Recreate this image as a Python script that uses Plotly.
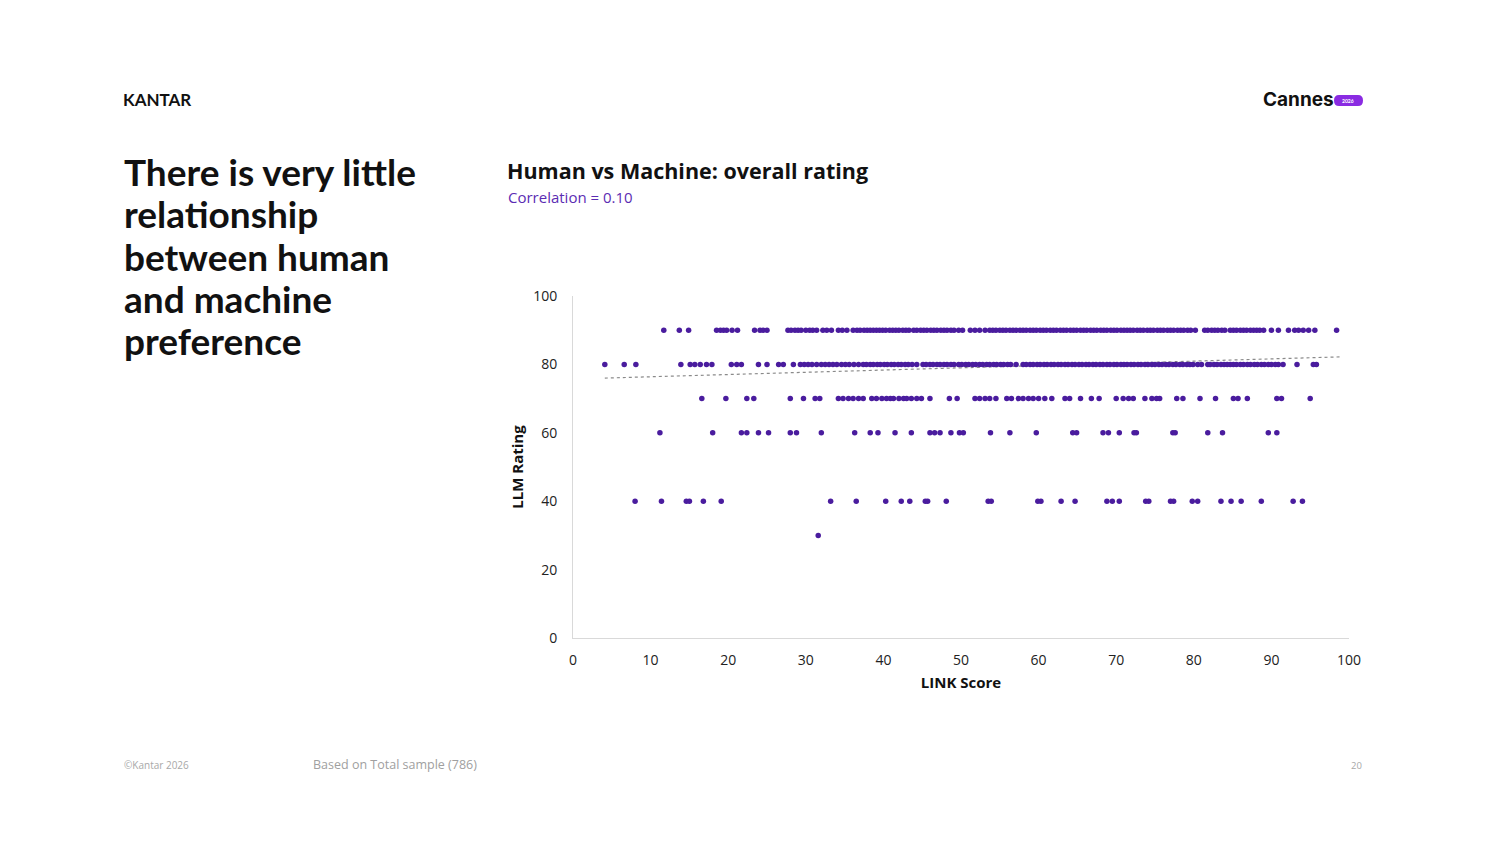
import plotly.graph_objects as go

# LINK scores, one list per LLM rating level
link_90 = [11.7, 13.7, 14.9, 18.5, 19.0, 19.4, 19.8, 20.5, 21.2, 23.4, 24.1, 24.5, 25.0,
           27.7, 28.1, 28.6, 29.0, 29.4, 30.0, 30.5, 30.9, 31.4, 32.2, 32.7, 33.3,
           34.2, 34.7, 35.3, 36.1, 36.6, 37.0, 37.5, 37.9, 38.3, 38.7, 39.1, 39.5, 39.9,
           40.3, 40.8, 41.2, 41.6, 42.0, 42.5, 42.9, 43.3, 43.9, 44.3, 44.8, 45.2, 45.6,
           46.1, 46.5, 46.9, 47.4, 47.8, 48.2, 48.7, 49.1, 49.7, 50.2, 51.2, 51.8, 52.4,
           53.1, 53.7, 54.1, 54.5, 55.0, 55.4, 55.8, 56.3, 56.7, 57.1, 57.6, 58.0, 58.4,
           58.9, 59.3, 59.7, 60.2, 60.6, 61.0, 61.5, 61.9, 62.3, 62.8, 63.2, 63.6, 64.1,
           64.5, 64.9, 65.4, 65.8, 66.2, 66.7, 67.1, 67.5, 68.0, 68.4, 68.8, 69.3, 69.7,
           70.1, 70.6, 71.0, 71.4, 71.8, 72.2, 72.7, 73.1, 73.5, 74.0, 74.4, 74.8, 75.3,
           75.7, 76.1, 76.6, 77.0, 77.4, 77.9, 78.3, 78.7, 79.2, 79.6, 80.2, 81.4, 81.8,
           82.3, 82.7, 83.1, 83.6, 84.0, 84.7, 85.1, 85.5, 86.0, 86.4, 86.8, 87.3, 87.7,
           88.1, 88.5, 89.0, 90.0, 90.9, 92.2, 93.0, 93.5, 94.1, 94.8, 95.6, 98.4]
link_80 = [4.1, 6.6, 8.1, 13.9, 15.1, 15.7, 16.4, 17.2, 17.9, 20.4, 21.1, 21.7, 23.9, 25.0,
           26.5, 27.1, 28.4, 29.3, 29.8, 30.3, 30.8, 31.4, 32.0, 32.5, 33.0, 33.5, 34.0,
           34.6, 35.1, 35.6, 36.2, 36.8, 37.4, 37.8, 38.3, 38.7, 39.2, 39.6, 40.1, 40.5,
           41.0, 41.4, 41.9, 42.3, 42.8, 43.2, 43.7, 44.3, 45.1, 45.5, 46.0, 46.4, 46.9,
           47.3, 47.8, 48.2, 48.7, 49.1, 49.7, 50.1, 50.6, 51.0, 51.5, 51.9, 52.4, 52.8,
           53.3, 53.7, 54.2, 54.6, 55.1, 55.5, 56.0, 56.4, 57.1, 58.0, 58.4, 58.9, 59.3,
           59.8, 60.2, 60.7, 61.1, 61.6, 62.0, 62.5, 62.9, 63.4, 63.8, 64.3, 64.7, 65.2,
           65.6, 66.1, 66.5, 67.0, 67.4, 67.9, 68.3, 68.8, 69.2, 69.7, 70.1, 70.6, 71.0,
           71.4, 71.9, 72.3, 72.8, 73.2, 73.7, 74.1, 74.6, 75.0, 75.5, 75.9, 76.4, 76.8,
           77.3, 77.7, 78.2, 78.6, 79.1, 79.5, 79.9, 80.5, 81.0, 81.8, 82.1, 82.6, 83.0,
           83.5, 83.9, 84.3, 84.7, 85.1, 85.5, 86.0, 86.4, 86.9, 87.3, 87.8, 88.2, 88.7,
           89.1, 89.6, 90.0, 90.5, 90.9, 91.5, 93.3, 95.4, 95.8]
link_70 = [16.6, 19.7, 22.4, 23.3, 28.0, 29.7, 31.2, 31.8, 34.2, 34.8, 35.5, 36.1, 36.8,
           37.4, 38.5, 39.1, 39.8, 40.4, 40.9, 41.3, 42.0, 42.6, 43.0, 43.6, 44.3, 44.9,
           46.0, 48.5, 49.5, 51.8, 52.4, 53.1, 53.7, 54.5, 55.9, 56.5, 57.4, 58.0, 58.7,
           59.3, 60.0, 60.8, 61.7, 63.4, 64.0, 65.4, 66.8, 67.8, 70.0, 70.9, 71.6, 72.2,
           73.7, 74.6, 75.2, 75.6, 77.8, 78.6, 80.8, 82.8, 85.1, 85.7, 86.9, 90.7, 91.3,
           95.0]
link_60 = [11.2, 18.0, 21.7, 22.4, 23.9, 25.2, 28.0, 28.8, 32.0, 36.3, 38.3, 39.3, 41.5,
           43.6, 46.0, 46.6, 47.3, 48.7, 49.8, 50.3, 53.8, 56.3, 59.7, 64.4, 64.9, 68.3,
           69.0, 70.4, 72.3, 72.6, 77.3, 77.6, 81.8, 83.7, 89.6, 90.7]
link_40 = [8.0, 11.4, 14.6, 15.0, 16.8, 19.1, 33.2, 36.5, 40.3, 42.3, 43.4, 45.4, 45.7,
           48.1, 53.5, 53.9, 59.9, 60.3, 62.9, 64.7, 68.8, 69.5, 70.4, 73.8, 74.2, 77.0,
           77.4, 79.8, 80.5, 83.5, 84.8, 86.1, 88.7, 92.8, 94.0]
link_30 = [31.6]

# dotted trend line end points
trend_x = [4.1, 98.9]
trend_y = [76.0, 82.2]

x_ticks = [0, 10, 20, 30, 40, 50, 60, 70, 80, 90, 100]
y_ticks = [0, 20, 40, 60, 80, 100]

xs, ys = [], []
for rating, scores in [(90, link_90), (80, link_80), (70, link_70),
                       (60, link_60), (40, link_40), (30, link_30)]:
    xs += scores
    ys += [rating] * len(scores)

W, H = 1500, 844
L, R, T, B = 573, 1349, 296, 638
PAGE = 8  # the page body margin shifts the figure by this much


def px(x):
    return (x - L) / (R - L)


def py(y):
    return (B - y) / (B - T)


FONT = "Lato"
fig = go.Figure()
fig.add_trace(go.Scatter(x=trend_x, y=trend_y, mode="lines",
                         line=dict(color="#8a8a8a", width=1.2, dash="dot"),
                         hoverinfo="skip"))
fig.add_trace(go.Scatter(x=xs, y=ys, mode="markers",
                         marker=dict(color="#4a1c9e", size=5.5, line=dict(width=0))))

ann = []


def text(x, y, s, size, color="#111111", anchor="left", font=FONT, yanchor="middle"):
    ann.append(dict(x=px(x), y=py(y), xref="paper", yref="paper", text=s,
                    showarrow=False, xanchor=anchor, yanchor=yanchor,
                    font=dict(family=font, size=size, color=color)))


text(121, 100, "<b>KANTAR</b>", 17)
text(1261, 99, "<b>Cannes</b>", 19, anchor="left", font="Inter")
text(1348, 101, "<b>2026</b>", 5, color="white", anchor="center")

head = ["There is very little", "relationship", "between human", "and machine", "preference"]
for i, line in enumerate(head):
    text(122, 171.5 + 42.3 * i, "<b>" + line + "</b>", 37)

text(505, 170, "<b>Human vs Machine: overall rating</b>", 21.5, font="Open Sans")
text(506, 197, "Correlation = 0.10", 15, color="#5b2cb3", font="Open Sans")

text(122, 765, "©Kantar 2026", 10, color="#a8a8a8", font="Open Sans")
text(311, 764, "Based on Total sample (786)", 12.5, color="#a0a0a0", font="Open Sans")
text(1364, 765, "20", 9.5, color="#a8a8a8", anchor="right", font="Open Sans")

# purple pill behind the 2026 badge
x0, x1, y0, y1 = px(1334), px(1363), py(106), py(95)
r = px(1339) - px(1334)
pill = (f"M {x0 + r} {y0} L {x1 - r} {y0} Q {x1} {y0} {x1} {(y0 + y1) / 2} "
        f"Q {x1} {y1} {x1 - r} {y1} L {x0 + r} {y1} Q {x0} {y1} {x0} {(y0 + y1) / 2} "
        f"Q {x0} {y0} {x0 + r} {y0} Z")

fig.update_layout(
    width=W, height=H, showlegend=False,
    paper_bgcolor="white", plot_bgcolor="white",
    margin=dict(l=L - PAGE, r=W - R + PAGE, t=T - PAGE, b=H - B + PAGE),
    font=dict(family="Open Sans", color="#222222"),
    annotations=ann,
    shapes=[dict(type="path", path=pill, xref="paper", yref="paper",
                 fillcolor="#8a2be2", line=dict(width=0), layer="below")],
    xaxis=dict(range=[0, 100], tickvals=x_ticks, showgrid=False, zeroline=False,
               showline=True, linecolor="#d9d9d9", linewidth=1, ticks="",
               tickfont=dict(size=14, color="#222222"), ticklabelstandoff=9,
               title=dict(text="<b>LINK Score</b>", font=dict(size=15, color="#111111"),
                          standoff=9)),
    yaxis=dict(range=[0, 100], tickvals=y_ticks, showgrid=False, zeroline=False,
               showline=True, linecolor="#d9d9d9", linewidth=1, ticks="",
               tickfont=dict(size=14, color="#222222"), ticklabelstandoff=12,
               title=dict(text="<b>LLM Rating</b>", font=dict(size=15, color="#111111"),
                          standoff=5)),
)

fig.write_html("out.html")
